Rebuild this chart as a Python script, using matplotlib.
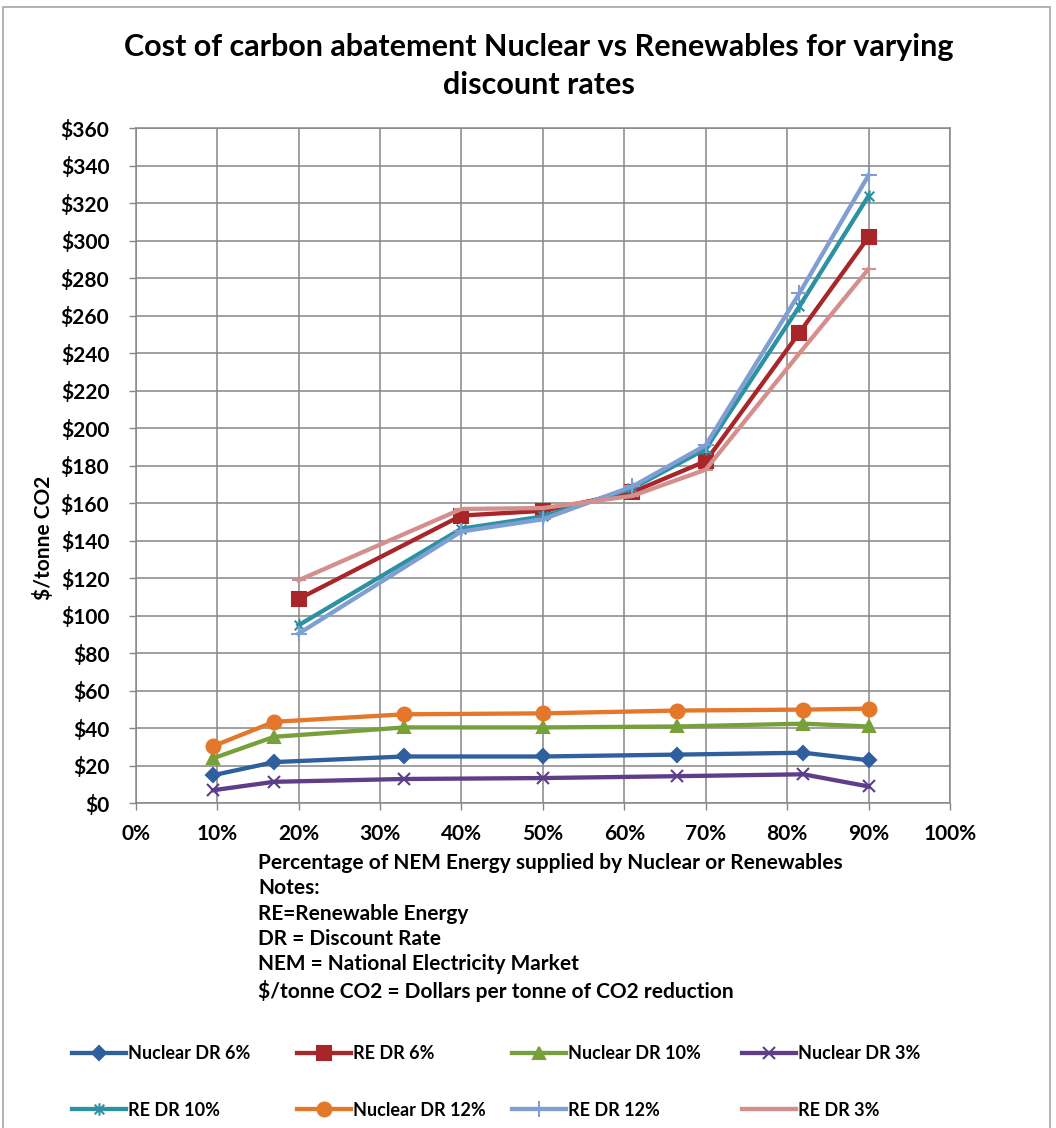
import matplotlib.pyplot as plt
import numpy as np
from matplotlib.path import Path
import matplotlib.patches as mpatches

# x positions (% of NEM energy)
x_nuclear = [9.5, 17, 33, 50, 66.5, 82, 90]
x_re = [20, 40, 50, 61, 70, 81.5, 90]

# $/tonne CO2 values
nuclear_dr6 = [15, 22, 25, 25, 26, 27, 23]
nuclear_dr10 = [24, 35.5, 40.5, 40.5, 41, 42.5, 41]
nuclear_dr3 = [7, 11.5, 13, 13.5, 14.5, 15.5, 9]
nuclear_dr12 = [30.5, 43.5, 47.5, 48, 49.5, 50, 50.5]
re_dr6 = [109, 153.5, 156, 166, 182.5, 251, 302]
re_dr10 = [95, 146.5, 153, 168, 189, 265, 324]
re_dr12 = [90.5, 145, 151.5, 169, 191, 272, 335]
re_dr3 = [119, 157, 157.5, 164, 178, 240, 285]

y_ticks = np.arange(0, 361, 20)
x_ticks = np.arange(0, 101, 10)

plt.rcParams.update({
    'font.family': ['Lato', 'DejaVu Sans'],
    'font.weight': 'bold',
})

# excel style asterisk marker (x with a vertical bar)
asterisk = Path([(-1, -1), (1, 1), (-1, 1), (1, -1), (0, -1.3), (0, 1.3)],
                [Path.MOVETO, Path.LINETO, Path.MOVETO, Path.LINETO, Path.MOVETO, Path.LINETO])

# label, x, y, colour, marker, marker size
series = [
    ('Nuclear DR 6%', x_nuclear, nuclear_dr6, '#2f5f9e', 'D', 7),
    ('RE DR 6%', x_re, re_dr6, '#a8262a', 's', 10),
    ('Nuclear DR 10%', x_nuclear, nuclear_dr10, '#77a03a', '^', 9),
    ('Nuclear DR 3%', x_nuclear, nuclear_dr3, '#5e3d89', 'x', 9),
    ('RE DR 10%', x_re, re_dr10, '#2b91a3', asterisk, 9),
    ('Nuclear DR 12%', x_nuclear, nuclear_dr12, '#e5772a', 'o', 10),
    ('RE DR 12%', x_re, re_dr12, '#7f9fd3', '+', 11),
    ('RE DR 3%', x_re, re_dr3, '#d48f8d', '_', 10),
]

fig = plt.figure(figsize=(10.56, 11.28), dpi=100)
ax = fig.add_axes([0.1285, 0.2878, 0.7711, 0.5984])

handles = []
for label, xs, ys, color, marker, ms in series:
    line, = ax.plot(xs, ys, color=color, linewidth=3.1, marker=marker, markersize=ms,
                    markerfacecolor=color, markeredgecolor=color, markeredgewidth=1.5,
                    label=label, zorder=3, clip_on=False)
    handles.append(line)

ax.set_xlim(0, 100)
ax.set_ylim(0, 360)
ax.set_xticks(x_ticks)
ax.set_yticks(y_ticks)
ax.set_xticklabels([f'{v}%' for v in x_ticks])
ax.set_yticklabels([f'${v}' for v in y_ticks])
ax.tick_params(labelsize=15, length=5, color='#868686', width=1)
ax.tick_params(axis='y', pad=14)
ax.tick_params(axis='x', pad=10)
for lab in ax.get_xticklabels() + ax.get_yticklabels():
    lab.set_fontweight('bold')
ax.grid(True, color='#868686', linewidth=1.1)
ax.set_axisbelow(True)
for s in ax.spines.values():
    s.set_color('#868686')
    s.set_linewidth(1.1)

ax.set_ylabel('$/tonne CO2', fontsize=15, fontweight='bold')
ax.yaxis.set_label_coords(-0.100, 0.394)

# title
fig.text(0.51, 0.9415, 'Cost of carbon abatement Nuclear vs Renewables for varying\ndiscount rates',
         ha='center', va='center', fontsize=22, fontweight='bold', linespacing=1.42)

# x label and notes block
notes = ('Percentage of NEM Energy supplied by Nuclear or Renewables\n'
         'Notes:\n'
         'RE=Renewable Energy\n'
         'DR = Discount Rate\n'
         'NEM = National Electricity Market\n'
         '$/tonne CO2 = Dollars per tonne of CO2 reduction')
fig.text(258 / 1056, 1 - 853 / 1128, notes, ha='left', va='top', fontsize=15,
         fontweight='bold', linespacing=1.33)

# legend: 4 columns of 2 rows, placed like the excel legend
col_x = [72, 297, 512, 742]
for i, cx in enumerate(col_x):
    fig.legend(handles=[handles[i], handles[i + 4]], loc='upper left',
               bbox_to_anchor=(cx / 1056, 1 - 1045 / 1128), frameon=False,
               prop={'size': 13, 'weight': 'bold'}, handlelength=3.0,
               handletextpad=0.1, labelspacing=2.2, borderpad=0, borderaxespad=0)

# chart area border
fig.patches.append(mpatches.Rectangle((3 / 1056, -0.02), 1047 / 1056, 1 - 7 / 1128 + 0.02,
                                      transform=fig.transFigure, fill=False,
                                      edgecolor='#a6a6a6', linewidth=1.2))

plt.savefig('out.png', dpi=100)
